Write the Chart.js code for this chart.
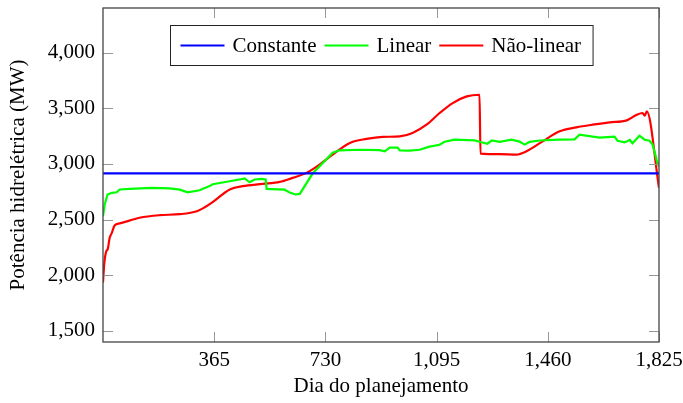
<!DOCTYPE html>
<html>
<head>
<meta charset="utf-8">
<script src="https://cdn.jsdelivr.net/npm/chart.js@4.4.1/dist/chart.umd.min.js"></script>
<style>
  html, body { margin: 0; padding: 0; background: #fff; }
</style>
</head>
<body>
<canvas id="hidroChart" width="683" height="403"></canvas>
<script>
// Dados
const xTicks = [365, 730, 1095, 1460, 1825];
const yTicks = [1500, 2000, 2500, 3000, 3500, 4000];

const constanteDays = [0, 1825];
const constanteMW = [2915, 2915];

const linearDays = [0, 6, 15, 29, 45, 55, 88, 160, 219, 252, 278, 317, 350, 360, 416, 449, 465, 481, 498, 521,
  534, 537, 596, 613, 632, 646, 688, 754, 777, 842, 908, 925, 941, 967, 974, 1007, 1039, 1072, 1105, 1121,
  1154, 1220, 1236, 1262, 1276, 1302, 1341, 1367, 1384, 1400, 1433, 1499, 1548, 1564, 1630, 1679, 1689, 1712, 1729, 1738,
  1761, 1778, 1794, 1804, 1817, 1825];
const linearMW = [2530, 2640, 2725, 2740, 2745, 2770, 2775, 2785, 2780, 2768, 2745, 2763, 2800, 2817, 2844, 2860, 2870, 2835, 2860, 2865,
  2860, 2775, 2768, 2742, 2725, 2730, 2913, 3100, 3122, 3127, 3123, 3113, 3146, 3146, 3120, 3119, 3127, 3155, 3172, 3199,
  3217, 3211, 3199, 3181, 3211, 3197, 3217, 3200, 3173, 3197, 3210, 3217, 3220, 3262, 3235, 3244, 3208, 3193, 3215, 3185,
  3253, 3217, 3208, 3173, 3038, 2975];

const naoLinearDays = [0, 4, 11, 15, 22, 29, 38, 55, 120, 186, 252, 308, 334, 360, 416, 458, 524, 580, 622, 668,
  711, 754, 810, 865, 918, 974, 1016, 1062, 1105, 1148, 1194, 1236, 1239, 1302, 1357, 1390, 1443, 1499, 1554, 1607,
  1663, 1719, 1752, 1771, 1778, 1785, 1825];
const naoLinearMW = [1934, 2100, 2217, 2230, 2337, 2380, 2447, 2465, 2516, 2539, 2548, 2575, 2610, 2656, 2770, 2800, 2820, 2838, 2874, 2919,
  2994, 3083, 3188, 3224, 3242, 3247, 3278, 3352, 3457, 3546, 3606, 3621, 3092, 3087, 3083, 3113, 3202, 3292, 3328, 3352,
  3373, 3391, 3441, 3457, 3433, 3471, 2785];

const FONT = '"Liberation Serif", "Times New Roman", serif';
const FONT_SIZE = 21;

function toPoints(days, values) {
  return days.map((d, i) => ({ x: d, y: values[i] }));
}

// moldura com marcas para dentro (estilo pgfplots)
const frameTicks = {
  id: 'frameTicks',
  afterDatasetsDraw(chart) {
    const { ctx, chartArea: a, scales } = chart;
    const len = 10;
    ctx.save();
    ctx.strokeStyle = '#999';
    ctx.lineWidth = 1;
    ctx.beginPath();
    xTicks.forEach(v => {
      const px = Math.round(scales.x.getPixelForValue(v)) + 0.5;
      ctx.moveTo(px, a.bottom); ctx.lineTo(px, a.bottom - len);
      ctx.moveTo(px, a.top); ctx.lineTo(px, a.top + len);
    });
    yTicks.forEach(v => {
      const py = Math.round(scales.y.getPixelForValue(v)) + 0.5;
      ctx.moveTo(a.left, py); ctx.lineTo(a.left + len, py);
      ctx.moveTo(a.right, py); ctx.lineTo(a.right - len, py);
    });
    ctx.stroke();
    ctx.strokeStyle = '#444';
    ctx.lineWidth = 1.3;
    ctx.strokeRect(a.left, a.top, a.right - a.left, a.bottom - a.top);
    ctx.restore();
  }
};

// legenda dentro da área do gráfico, com caixa
const boxLegend = {
  id: 'boxLegend',
  afterDraw(chart) {
    const { ctx, chartArea: a } = chart;
    const sets = chart.data.datasets;
    const lineLen = 44, gap = 8, padL = 10, padR = 12, itemGap = 8;
    ctx.save();
    ctx.font = FONT_SIZE + 'px ' + FONT;
    let total = padL + padR;
    const widths = sets.map(s => ctx.measureText(s.label).width);
    widths.forEach((w, i) => { total += lineLen + gap + w + (i < widths.length - 1 ? itemGap : 0); });
    const boxH = 40;
    const left = Math.round((a.left + a.right) / 2 - total / 2) + 0.5;
    const top = Math.round(a.top) + 17.5;
    ctx.fillStyle = '#fff';
    ctx.fillRect(left, top, total, boxH);
    ctx.strokeStyle = '#222';
    ctx.lineWidth = 1;
    ctx.strokeRect(left, top, total, boxH);
    const cy = top + boxH / 2;
    let x = left + padL;
    sets.forEach((s, i) => {
      ctx.strokeStyle = s.borderColor;
      ctx.lineWidth = 2;
      ctx.beginPath();
      ctx.moveTo(x, cy); ctx.lineTo(x + lineLen, cy);
      ctx.stroke();
      x += lineLen + gap;
      ctx.fillStyle = '#000';
      ctx.textBaseline = 'middle';
      ctx.fillText(s.label, x, cy + 1);
      x += widths[i] + itemGap;
    });
    ctx.restore();
  }
};

const ctx = document.getElementById('hidroChart').getContext('2d');
new Chart(ctx, {
  type: 'line',
  data: {
    datasets: [
      {
        label: 'Constante',
        data: toPoints(constanteDays, constanteMW),
        borderColor: '#0000ff',
        borderWidth: 2.2,
        pointRadius: 0,
        tension: 0
      },
      {
        label: 'Linear',
        data: toPoints(linearDays, linearMW),
        borderColor: '#00ff00',
        borderWidth: 2.2,
        pointRadius: 0,
        tension: 0
      },
      {
        label: 'Não-linear',
        data: toPoints(naoLinearDays, naoLinearMW),
        borderColor: '#ff0000',
        borderWidth: 2.2,
        pointRadius: 0,
        cubicInterpolationMode: 'monotone'
      }
    ]
  },
  options: {
    responsive: false,
    animation: false,
    layout: { padding: { top: 8, right: 24, left: 0, bottom: 0 } },
    plugins: {
      legend: { display: false },
      tooltip: { enabled: false }
    },
    scales: {
      x: {
        type: 'linear',
        min: 0,
        max: 1825,
        afterBuildTicks: s => { s.ticks = xTicks.map(v => ({ value: v })); },
        afterFit: s => { s.height = 61; s.paddingLeft = 0; s.paddingRight = 0; },
        grid: { display: false, drawTicks: false },
        border: { display: false },
        ticks: {
          padding: 6,
          color: '#000',
          font: { family: FONT, size: FONT_SIZE },
          maxRotation: 0,
          callback: v => v.toLocaleString('en-US')
        },
        title: {
          display: true,
          text: 'Dia do planejamento',
          color: '#000',
          font: { family: FONT, size: FONT_SIZE },
          padding: { top: 0, bottom: 4 }
        }
      },
      y: {
        min: 1400,
        max: 4400,
        afterBuildTicks: s => { s.ticks = yTicks.map(v => ({ value: v })); },
        afterFit: s => { s.width = 103; s.paddingTop = 0; s.paddingBottom = 0; },
        grid: { display: false, drawTicks: false },
        border: { display: false },
        ticks: {
          padding: 8,
          color: '#000',
          font: { family: FONT, size: FONT_SIZE },
          callback: v => v.toLocaleString('en-US')
        },
        title: {
          display: true,
          text: 'Potência hidrelétrica (MW)',
          color: '#000',
          font: { family: FONT, size: FONT_SIZE },
          padding: { top: 6, bottom: 0 }
        }
      }
    }
  },
  plugins: [frameTicks, boxLegend]
});
</script>
</body>
</html>
